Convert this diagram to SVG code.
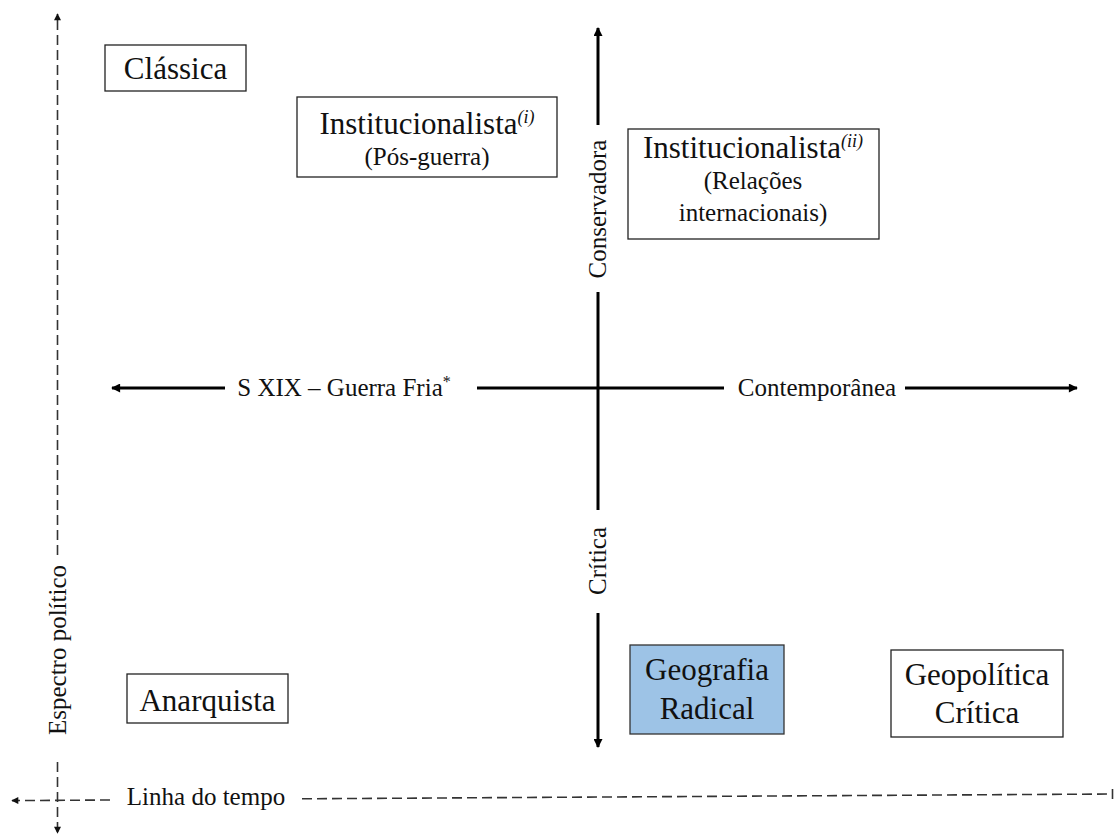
<svg xmlns="http://www.w3.org/2000/svg" width="1114" height="838" viewBox="0 0 1114 838">
  <defs>
    <marker id="arrow" viewBox="0 0 10 10" refX="9" refY="5" markerWidth="10" markerHeight="9" markerUnits="userSpaceOnUse" orient="auto">
      <path d="M0,0 L10,5 L0,10 Z" fill="#000"/>
    </marker>
    <marker id="arrow-small" viewBox="0 0 10 10" refX="9" refY="5" markerWidth="8" markerHeight="7" markerUnits="userSpaceOnUse" orient="auto">
      <path d="M0,0 L10,5 L0,10 Z" fill="#111"/>
    </marker>
    <style>
      text { font-family: 'Liberation Serif', 'DejaVu Serif', 'Times New Roman', serif; fill: #111; text-anchor: middle; }
      .box { fill: #fff; stroke: #222; stroke-width: 1.3; }
      .box-blue { fill: #9dc3e6; stroke: #333; stroke-width: 1.3; }
      .title { font-size: 31px; }
      .sub { font-size: 25px; }
      .sup { font-style: italic; font-size: 18px; }
      .label { font-size: 25px; }
      .axis { stroke: #000; stroke-width: 3; fill: none; }
      .dashed { stroke: #333; stroke-width: 1.6; stroke-dasharray: 10 5; fill: none; }
    </style>
  </defs>

  <rect width="1114" height="838" fill="#fff"/>

  <!-- axes and guide lines -->
  <g id="connectors">
    <!-- political spectrum (dashed, vertical) -->
    <line class="dashed" x1="57.5" y1="555" x2="57.5" y2="14" marker-end="url(#arrow-small)"/>
    <line class="dashed" x1="57.5" y1="762" x2="57.5" y2="833" marker-end="url(#arrow-small)"/>
    <!-- timeline (dashed, horizontal) -->
    <line class="dashed" x1="110" y1="800" x2="12" y2="800.6" marker-end="url(#arrow-small)"/>
    <line class="dashed" x1="302" y1="798.8" x2="1112" y2="794"/>
    <line x1="1112.5" y1="789" x2="1112.5" y2="799" stroke="#333" stroke-width="1.6"/>

    <!-- vertical solid axis -->
    <line class="axis" x1="598" y1="125" x2="598" y2="28" marker-end="url(#arrow)"/>
    <line class="axis" x1="598" y1="292" x2="598" y2="510"/>
    <line class="axis" x1="598" y1="613" x2="598" y2="747" marker-end="url(#arrow)"/>

    <!-- horizontal solid axis -->
    <line class="axis" x1="225" y1="388" x2="112" y2="388" marker-end="url(#arrow)"/>
    <line class="axis" x1="477" y1="388" x2="724" y2="388"/>
    <line class="axis" x1="905" y1="388" x2="1077" y2="388" marker-end="url(#arrow)"/>
  </g>

  <!-- axis labels -->
  <g id="axis-labels">
    <text class="label" transform="translate(606,209) rotate(-90)">Conservadora</text>
    <text class="label" transform="translate(606,561) rotate(-90)">Crítica</text>
    <text class="label" x="344" y="396">S XIX – Guerra Fria<tspan font-size="16" dy="-9">*</tspan></text>
    <text class="label" x="817" y="396">Contemporânea</text>
    <text class="label" transform="translate(66,650) rotate(-90)">Espectro político</text>
    <text class="label" x="206" y="805">Linha do tempo</text>
  </g>

  <g id="classica">
    <rect class="box" x="105" y="45" width="141" height="46"/>
    <text class="title" x="175.5" y="79">Clássica</text>
  </g>

  <g id="institucionalista-i">
    <rect class="box" x="297" y="97" width="260" height="80"/>
    <text class="title" x="427" y="134">Institucionalista<tspan class="sup" dy="-11">(i)</tspan></text>
    <text class="sub" x="427" y="165">(Pós-guerra)</text>
  </g>

  <g id="institucionalista-ii">
    <rect class="box" x="628" y="129" width="251" height="110"/>
    <text class="title" x="753" y="158">Institucionalista<tspan class="sup" dy="-11">(ii)</tspan></text>
    <text class="sub" x="753" y="189">(Relações</text>
    <text class="sub" x="753" y="221">internacionais)</text>
  </g>

  <g id="anarquista">
    <rect class="box" x="127" y="674" width="161" height="49"/>
    <text class="title" x="207.5" y="711">Anarquista</text>
  </g>

  <g id="geografia-radical">
    <rect class="box-blue" x="630" y="645" width="154" height="89"/>
    <text class="title" x="707" y="680">Geografia</text>
    <text class="title" x="707" y="719">Radical</text>
  </g>

  <g id="geopolitica-critica">
    <rect class="box" x="891" y="650" width="172" height="87"/>
    <text class="title" x="977" y="685">Geopolítica</text>
    <text class="title" x="977" y="723">Crítica</text>
  </g>
</svg>
